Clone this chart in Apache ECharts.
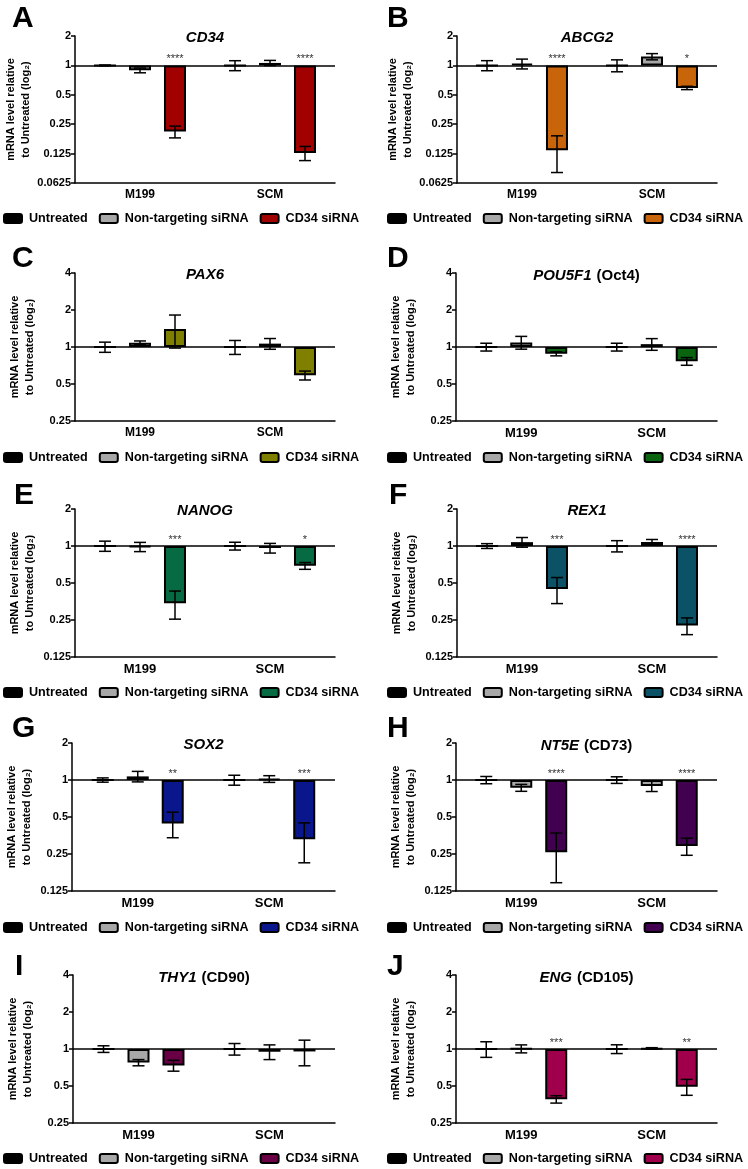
<!DOCTYPE html>
<html><head><meta charset="utf-8">
<script src="https://cdn.jsdelivr.net/npm/echarts@6/dist/echarts.min.js"></script>
<style>html,body{margin:0;padding:0;background:#fff}#c{width:748px;height:1169px}</style>
</head><body><div id="c"></div>
<script>
// ---------------- data ----------------
const categories = ['M199', 'SCM'];
const conditions = ['Untreated', 'Non-targeting siRNA', 'CD34 siRNA'];
const panelLetters = ['A','B','C','D','E','F','G','H','I','J'];
const geneNames = ['CD34','ABCG2','PAX6','POU5F1','NANOG','REX1','SOX2','NT5E','THY1','ENG'];
const geneAliases = ['','','','Oct4','','','','CD73','CD90','CD105'];
// y axis range as log2 exponents (tick labels are 2^n)
const yExpMin = [-4,-4,-2,-2,-3,-3,-3,-3,-2,-2];
const yExpMax = [1,1,2,2,1,1,1,1,2,2];

// mean fold change; rows: Untreated, Non-targeting siRNA, CD34 siRNA; columns: M199, SCM
const meanA = [[1,1],[0.89,1.06],[0.21,0.127]];
const sdA   = [[0.01,0.117],[0.05,0.065],[0.029,0.021]];
const starsA = ['****','****'];

const meanB = [[1,1],[1.04,1.23],[0.135,0.588]];
const sdB   = [[0.118,0.14],[0.12,0.09],[0.055,0.023]];
const starsB = ['****','*'];

const meanC = [[1,1],[1.085,1.065],[1.40,0.588]];
const sdC   = [[0.095,0.13],[0.035,0.107],[0.42,0.049]];
const starsC = ['',''];

const meanD = [[1,1],[1.09,1.055],[0.88,0.765]];
const sdD   = [[0.073,0.073],[0.13,0.115],[0.033,0.055]];
const starsD = ['',''];

const meanE = [[1,1],[0.985,0.963],[0.342,0.69]];
const sdE   = [[0.095,0.073],[0.085,0.087],[0.088,0.044]];
const starsE = ['***','*'];

const meanF = [[1,1],[1.075,1.08],[0.447,0.225]];
const sdF   = [[0.045,0.105],[0.097,0.05],[0.107,0.035]];
const starsF = ['***','****'];

const meanG = [[1,1],[1.07,1.02],[0.443,0.33]];
const sdG   = [[0.04,0.093],[0.105,0.064],[0.104,0.118]];
const starsG = ['**','***'];

const meanH = [[1,1.0],[0.865,0.895],[0.258,0.29]];
const sdH   = [[0.068,0.062],[0.056,0.089],[0.112,0.046]];
const starsH = ['****','****'];

const meanI = [[1,1],[0.775,0.95],[0.735,0.955]];
const sdI   = [[0.062,0.108],[0.045,0.13],[0.075,0.225]];
const starsI = ['',''];

const meanJ = [[1,1],[1.005,1.01],[0.39,0.493]];
const sdJ   = [[0.145,0.082],[0.075,0.015],[0.027,0.073]];
const starsJ = ['***','**'];

const panelMeans = [meanA,meanB,meanC,meanD,meanE,meanF,meanG,meanH,meanI,meanJ];
const panelSds = [sdA,sdB,sdC,sdD,sdE,sdF,sdG,sdH,sdI,sdJ];
const panelStars = [starsA,starsB,starsC,starsD,starsE,starsF,starsG,starsH,starsI,starsJ];

// ---------------- styles / layout ----------------
const siColors = ['#A00000','#C8640A','#7F7F00','#0A640F','#066B43','#0B5266','#0A168C','#410050','#690046','#A0004B'];
const untreatedColor = '#000000';
const ntColor = '#A8A8A8';
const FONT = 'Liberation Sans, Arial, sans-serif';
// [left, top, width, height]
const gridBox = [[75,36,260,147],[457,36,260,147],[75,273,260,148],[456,273,261,148],
                 [75,509,260,148],[457,509,260,148],[72,743,263,148],[456,743,261,148],
                 [73,975,262,148],[456,975,261,148]];
const letterPos = [[12,4],[387,4],[12,244],[387,244],[14,481],[389,481],[12,714],[387,714],[15,952],[387,952]];
const legendPos = [[3,212],[387,212],[3,451],[387,451],[3,686],[387,686],[3,921],[387,921],[3,1152],[387,1152]];
const catFont = [12,12,12,13,13,13,13,13,13,13];

const grids = [], xAxes = [], yAxes = [], series = [], titles = [], legends = [];

panelLetters.forEach((L, i) => {
  const [gl, gt, gw, gh] = gridBox[i];
  grids.push({left: gl, top: gt, width: gw, height: gh});
  xAxes.push({
    type: 'category', gridIndex: i, data: categories,
    axisLine: {onZero: false, lineStyle: {color: '#000', width: 1.5}},
    axisTick: {alignWithLabel: true, length: 5, lineStyle: {color: '#000', width: 1.5}},
    axisLabel: {color: '#000', fontWeight: 'bold', fontSize: catFont[i], fontFamily: FONT, margin: 6},
    splitLine: {show: false}
  });
  yAxes.push({
    type: 'value', gridIndex: i, min: yExpMin[i], max: yExpMax[i], interval: 1,
    name: 'mRNA level relative\nto Untreated (log\u2082)',
    nameLocation: 'middle', nameGap: 38, nameRotate: 90,
    nameTextStyle: {color: '#000', fontWeight: 'bold', fontSize: 11, fontFamily: FONT, lineHeight: 15},
    axisLine: {show: true, lineStyle: {color: '#000', width: 1.5}},
    axisTick: {show: true, length: 4, lineStyle: {color: '#000', width: 1.5}},
    axisLabel: {color: '#000', fontWeight: 'bold', fontSize: 11, fontFamily: FONT, margin: 4,
      formatter: v => String(Math.pow(2, v))},
    splitLine: {show: false}
  });
  titles.push({
    text: L, left: letterPos[i][0], top: letterPos[i][1],
    textStyle: {fontSize: 30, fontWeight: 'bold', color: '#000', fontFamily: FONT}, padding: 0
  });
  titles.push({
    text: geneAliases[i] ? `{g|${geneNames[i]}} {n|(${geneAliases[i]})}` : `{g|${geneNames[i]}}`,
    left: gl + gw / 2, top: gt - 6, textAlign: 'center', padding: 0,
    textStyle: {rich: {
      g: {fontStyle: 'italic', fontWeight: 'bold', fontSize: 15, color: '#000', fontFamily: FONT},
      n: {fontWeight: 'bold', fontSize: 15, color: '#000', fontFamily: FONT}
    }}
  });
  const colors = [untreatedColor, ntColor, siColors[i]];
  const names = conditions.map(c => L + '|' + c);
  conditions.forEach((c, k) => {
    const s = {
      type: 'bar', name: names[k], xAxisIndex: i, yAxisIndex: i,
      data: panelMeans[i][k].map(v => Math.log2(v)),
      barWidth: 22, barGap: '59%',
      itemStyle: {color: colors[k], borderColor: '#000', borderWidth: 2},
      silent: true, z: 2
    };
    if (k === 0) {
      s.markLine = {silent: true, symbol: 'none', label: {show: false},
        lineStyle: {color: '#000', width: 1.5, type: 'solid'}, data: [{yAxis: 0}], z: 3};
    }
    series.push(s);
  });
  const errData = [];
  categories.forEach((cat, ci) => {
    conditions.forEach((c, k) => {
      const m = panelMeans[i][k][ci], sd = panelSds[i][k][ci];
      errData.push([ci, k, Math.log2(m), Math.log2(m - sd), Math.log2(m + sd)]);
    });
  });
  const stars = panelStars[i];
  series.push({
    type: 'custom', xAxisIndex: i, yAxisIndex: i, z: 5, silent: true,
    encode: {x: 0, y: [3, 4]},
    data: errData,
    renderItem: (params, api) => {
      const ci = api.value(0), k = api.value(1);
      const lo = api.coord([ci, api.value(3)]);
      const hi = api.coord([ci, api.value(4)]);
      const x = lo[0] + (k - 1) * 35;
      const st = {stroke: '#000', lineWidth: 1.5};
      const half = 6;
      const ch = [
        {type: 'line', shape: {x1: x, y1: lo[1], x2: x, y2: hi[1]}, style: st},
        {type: 'line', shape: {x1: x - half, y1: lo[1], x2: x + half, y2: lo[1]}, style: st},
        {type: 'line', shape: {x1: x - half, y1: hi[1], x2: x + half, y2: hi[1]}, style: st}
      ];
      if (k === 2 && stars[ci]) {
        const base = api.coord([ci, 0]);
        ch.push({type: 'text', style: {text: stars[ci], x: x, y: base[1] - 1, align: 'center',
          verticalAlign: 'bottom', fontSize: 11, fill: '#333', fontFamily: FONT}});
      }
      return {type: 'group', children: ch};
    }
  });
  legends.push({
    data: names, left: legendPos[i][0], top: legendPos[i][1], orient: 'horizontal',
    itemWidth: 18, itemHeight: 9, itemGap: 11, icon: 'roundRect', selectedMode: false, padding: 0,
    formatter: n => n.split('|')[1],
    itemStyle: {borderColor: '#000', borderWidth: 2},
    textStyle: {color: '#000', fontWeight: 'bold', fontSize: 12.6, fontFamily: FONT, padding: [0, 0, 0, 2]}
  });
});

const chart = echarts.init(document.getElementById('c'), null, {renderer: 'canvas'});
chart.setOption({
  backgroundColor: '#fff', animation: false,
  title: titles, legend: legends, grid: grids, xAxis: xAxes, yAxis: yAxes, series: series
});
</script></body></html>
